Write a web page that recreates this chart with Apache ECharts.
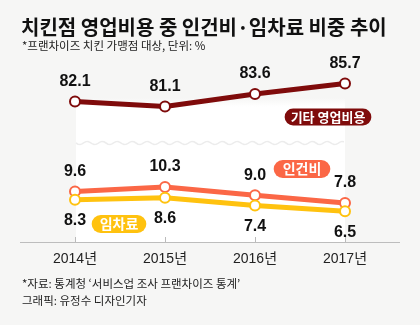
<!DOCTYPE html>
<html><head><meta charset="utf-8">
<script src="https://cdn.jsdelivr.net/npm/echarts@6/dist/echarts.min.js"></script>
<style>html,body{margin:0;padding:0;background:#f6f6f5;}#c{width:420px;height:325px;}</style>
</head><body><div id="c"></div>
<script>
const years = ['2014년', '2015년', '2016년', '2017년'];
const otherCost = [82.1, 81.1, 83.6, 85.7];
const labor = [9.6, 10.3, 9.0, 7.8];
const rent = [8.3, 8.6, 7.4, 6.5];
const title = '치킨점 영업비용 중 인건비·임차료 비중 추이';
const subtitle = '*프랜차이즈 치킨 가맹점 대상, 단위: %';
const source = '*자료: 통계청 ‘서비스업 조사 프랜차이즈 통계’';
const credit = '그래픽: 유정수 디자인기자';
const tagOther = '기타 영업비용', tagLabor = '인건비', tagRent = '임차료';

const C_DARK = '#7f0b0b', C_OR = '#fb6746', C_YE = '#ffc20f';
const numFont = '"Liberation Sans Narrow","Liberation Sans",Arial,sans-serif';
const krFont = '"Noto Sans CJK KR","Noto Sans",sans-serif';

function lineSeries(name, data, color, xi, yi, pos) {
  return {
    name, type: 'line', data, xAxisIndex: xi, yAxisIndex: yi,
    symbol: 'circle', symbolSize: 10, showAllSymbol: true,
    lineStyle: { color, width: 5 },
    itemStyle: { color: '#fff', borderColor: color, borderWidth: 2 },
    label: { show: true, position: pos, distance: pos === 'top' ? 6 : 7,
      formatter: p => p.value.toFixed(1),
      fontFamily: numFont, fontWeight: 'bold', fontSize: 16, color: '#111' },
    z: 3, animation: false
  };
}

// wavy break line (decoration)
const wave = [];
for (let x = 76; x <= 345; x += 2) wave.push([x, 143 + 1.6 * Math.sin((x - 76) / 15 * 2 * Math.PI)]);

const chart = echarts.init(document.getElementById('c'), null, { renderer: 'canvas' });
chart.setOption({
  backgroundColor: '#f6f6f5',
  animation: false,
  grid: [
    { left: 75, right: 75, top: 72, height: 40 },
    { left: 75, right: 75, top: 176, bottom: 83 }
  ],
  xAxis: [
    { gridIndex: 0, type: 'category', data: years, boundaryGap: false, show: false },
    { gridIndex: 1, type: 'category', data: years, boundaryGap: false,
      axisLine: { show: false },
      axisTick: { show: true, inside: true, length: 5, lineStyle: { color: '#bbb' } },
      axisLabel: { margin: 10, fontFamily: 'Liberation Sans, ' + krFont, fontSize: 14, color: '#222' } }
  ],
  yAxis: [
    { gridIndex: 0, type: 'value', min: 80, max: 88, show: false },
    { gridIndex: 1, type: 'value', min: 1.7, max: 12, show: false }
  ],
  series: [
    lineSeries('기타 영업비용', otherCost, C_DARK, 0, 0, 'top'),
    lineSeries('인건비', labor, C_OR, 1, 1, 'top'),
    lineSeries('임차료', rent, C_YE, 1, 1, 'bottom')
  ],
  graphic: [
    { type: 'rect', z: -10, shape: { x: 76, y: 98, width: 269, height: 144 },
      style: { fill: new echarts.graphic.LinearGradient(0, 0, 0, 1, [
        { offset: 0, color: 'rgba(255,255,255,0)' }, { offset: 0.06, color: '#fff' }, { offset: 1, color: '#fff' }]) } },
    { type: 'polyline', z: -9, shape: { points: wave }, style: { stroke: '#ececec', lineWidth: 1.5, fill: null } },
    { type: 'line', z: 1, shape: { x1: 20, y1: 242.5, x2: 400, y2: 242.5 }, style: { stroke: '#bdbdbd', lineWidth: 1 } },
    { type: 'text', left: 21, top: 17, style: { text: title, font: 'bold 20px ' + krFont, fill: '#111' } },
    { type: 'text', left: 22, top: 40, style: { text: subtitle, font: '11.5px ' + krFont, fill: '#222' } },
    { type: 'text', left: 22, top: 278, style: { text: source, font: '11.5px ' + krFont, fill: '#222' } },
    { type: 'text', left: 22, top: 295, style: { text: credit, font: '11.5px ' + krFont, fill: '#222' } },
    { type: 'text', z: 5, x: 328, y: 117, style: { text: tagOther, font: 'bold 13px ' + krFont, fill: '#fff',
      align: 'center', verticalAlign: 'middle', backgroundColor: C_DARK, borderRadius: 9, padding: [2, 6, 2, 6] } },
    { type: 'text', z: 5, x: 302, y: 169, style: { text: tagLabor, font: 'bold 14px ' + krFont, fill: '#fff',
      align: 'center', verticalAlign: 'middle', backgroundColor: C_OR, borderRadius: 10, padding: [2, 9, 2, 9] } },
    { type: 'text', z: 5, x: 119, y: 224, style: { text: tagRent, font: 'bold 14px ' + krFont, fill: '#fff',
      align: 'center', verticalAlign: 'middle', backgroundColor: C_YE, borderRadius: 10, padding: [2, 8, 2, 8] } }
  ]
});
</script></body></html>
